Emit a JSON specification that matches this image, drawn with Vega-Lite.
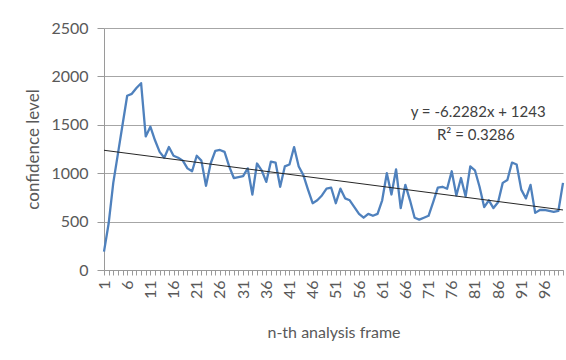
{
  "$schema": "https://vega.github.io/schema/vega-lite/v6.json",
  "width": 459,
  "height": 242,
  "autosize": {"type": "none"},
  "padding": {"left": 104, "top": 28, "right": 3, "bottom": 90},
  "background": "white",
  "config": {
    "view": {"stroke": null},
    "font": "Lato",
    "axis": {
      "labelFont": "Lato",
      "titleFont": "Lato",
      "labelColor": "#595959",
      "titleColor": "#595959",
      "titleFontWeight": "normal",
      "domainColor": "#9a9a9a",
      "tickColor": "#9a9a9a"
    }
  },
  "datasets": {
    "frames": [
      {"frame": 1, "level": 190}, {"frame": 2, "level": 480}, {"frame": 3, "level": 900}, {"frame": 4, "level": 1200}, {"frame": 5, "level": 1500},
      {"frame": 6, "level": 1800}, {"frame": 7, "level": 1820}, {"frame": 8, "level": 1880}, {"frame": 9, "level": 1930}, {"frame": 10, "level": 1380},
      {"frame": 11, "level": 1480}, {"frame": 12, "level": 1340}, {"frame": 13, "level": 1220}, {"frame": 14, "level": 1160}, {"frame": 15, "level": 1270},
      {"frame": 16, "level": 1180}, {"frame": 17, "level": 1160}, {"frame": 18, "level": 1130}, {"frame": 19, "level": 1050}, {"frame": 20, "level": 1020},
      {"frame": 21, "level": 1180}, {"frame": 22, "level": 1130}, {"frame": 23, "level": 870}, {"frame": 24, "level": 1100}, {"frame": 25, "level": 1230},
      {"frame": 26, "level": 1240}, {"frame": 27, "level": 1220}, {"frame": 28, "level": 1070}, {"frame": 29, "level": 950}, {"frame": 30, "level": 960},
      {"frame": 31, "level": 970}, {"frame": 32, "level": 1050}, {"frame": 33, "level": 780}, {"frame": 34, "level": 1100}, {"frame": 35, "level": 1030},
      {"frame": 36, "level": 910}, {"frame": 37, "level": 1120}, {"frame": 38, "level": 1110}, {"frame": 39, "level": 860}, {"frame": 40, "level": 1070},
      {"frame": 41, "level": 1090}, {"frame": 42, "level": 1270}, {"frame": 43, "level": 1070}, {"frame": 44, "level": 980}, {"frame": 45, "level": 830},
      {"frame": 46, "level": 690}, {"frame": 47, "level": 720}, {"frame": 48, "level": 770}, {"frame": 49, "level": 840}, {"frame": 50, "level": 850},
      {"frame": 51, "level": 690}, {"frame": 52, "level": 840}, {"frame": 53, "level": 740}, {"frame": 54, "level": 720}, {"frame": 55, "level": 650},
      {"frame": 56, "level": 580}, {"frame": 57, "level": 540}, {"frame": 58, "level": 580}, {"frame": 59, "level": 560}, {"frame": 60, "level": 580},
      {"frame": 61, "level": 720}, {"frame": 62, "level": 1000}, {"frame": 63, "level": 780}, {"frame": 64, "level": 1040}, {"frame": 65, "level": 640},
      {"frame": 66, "level": 880}, {"frame": 67, "level": 720}, {"frame": 68, "level": 540}, {"frame": 69, "level": 520}, {"frame": 70, "level": 540},
      {"frame": 71, "level": 560}, {"frame": 72, "level": 700}, {"frame": 73, "level": 850}, {"frame": 74, "level": 860}, {"frame": 75, "level": 840},
      {"frame": 76, "level": 1020}, {"frame": 77, "level": 770}, {"frame": 78, "level": 950}, {"frame": 79, "level": 760}, {"frame": 80, "level": 1070},
      {"frame": 81, "level": 1030}, {"frame": 82, "level": 860}, {"frame": 83, "level": 650}, {"frame": 84, "level": 720}, {"frame": 85, "level": 640},
      {"frame": 86, "level": 700}, {"frame": 87, "level": 900}, {"frame": 88, "level": 930}, {"frame": 89, "level": 1110}, {"frame": 90, "level": 1090},
      {"frame": 91, "level": 830}, {"frame": 92, "level": 740}, {"frame": 93, "level": 880}, {"frame": 94, "level": 590}, {"frame": 95, "level": 620},
      {"frame": 96, "level": 620}, {"frame": 97, "level": 610}, {"frame": 98, "level": 600}, {"frame": 99, "level": 610}, {"frame": 100, "level": 900}
    ],
    "trend": [
      {"frame": 1, "fit": 1236.77},
      {"frame": 100, "fit": 620.18}
    ],
    "equation": [
      {"frame": 81.7, "level": 1635, "text": "y = -6.2282x + 1243"},
      {"frame": 81.2, "level": 1390, "text": "R² = 0.3286"}
    ]
  },
  "layer": [
    {
      "data": {"name": "frames"},
      "mark": {"type": "line", "color": "#4f81bd", "strokeWidth": 2.3, "strokeJoin": "round"},
      "encoding": {
        "x": {
          "field": "frame",
          "type": "quantitative",
          "scale": {"domain": [1, 100], "nice": false, "zero": false},
          "axis": {
            "title": "n-th analysis frame",
            "titleFontSize": 16,
            "titlePadding": 26,
            "tickCount": 100,
            "values": [1,2,3,4,5,6,7,8,9,10,11,12,13,14,15,16,17,18,19,20,21,22,23,24,25,26,27,28,29,30,31,32,33,34,35,36,37,38,39,40,41,42,43,44,45,46,47,48,49,50,51,52,53,54,55,56,57,58,59,60,61,62,63,64,65,66,67,68,69,70,71,72,73,74,75,76,77,78,79,80,81,82,83,84,85,86,87,88,89,90,91,92,93,94,95,96,97,98,99,100],
            "labelExpr": "(datum.value - 1) % 5 === 0 ? datum.value : ''",
            "labelOverlap": false,
            "labelAngle": -90,
            "labelFontSize": 16,
            "labelPadding": 5,
            "tickSize": 5,
            "grid": false
          }
        },
        "y": {
          "field": "level",
          "type": "quantitative",
          "scale": {"domain": [0, 2500], "nice": false},
          "axis": {
            "title": "confidence level",
            "titleFontSize": 17,
            "titlePadding": 8,
            "values": [0, 500, 1000, 1500, 2000, 2500],
            "format": "d",
            "labelFontSize": 16,
            "labelPadding": 9,
            "tickSize": 7,
            "grid": true,
            "gridColor": "#a6a6a6",
            "gridWidth": 1
          }
        }
      }
    },
    {
      "data": {"name": "trend"},
      "mark": {"type": "line", "color": "#262626", "strokeWidth": 1},
      "encoding": {
        "x": {"field": "frame", "type": "quantitative"},
        "y": {"field": "fit", "type": "quantitative"}
      }
    },
    {
      "data": {"name": "equation"},
      "mark": {"type": "text", "font": "Lato", "fontSize": 15, "color": "#404040", "align": "center", "baseline": "middle"},
      "encoding": {
        "x": {"field": "frame", "type": "quantitative"},
        "y": {"field": "level", "type": "quantitative"},
        "text": {"field": "text"}
      }
    }
  ]
}
